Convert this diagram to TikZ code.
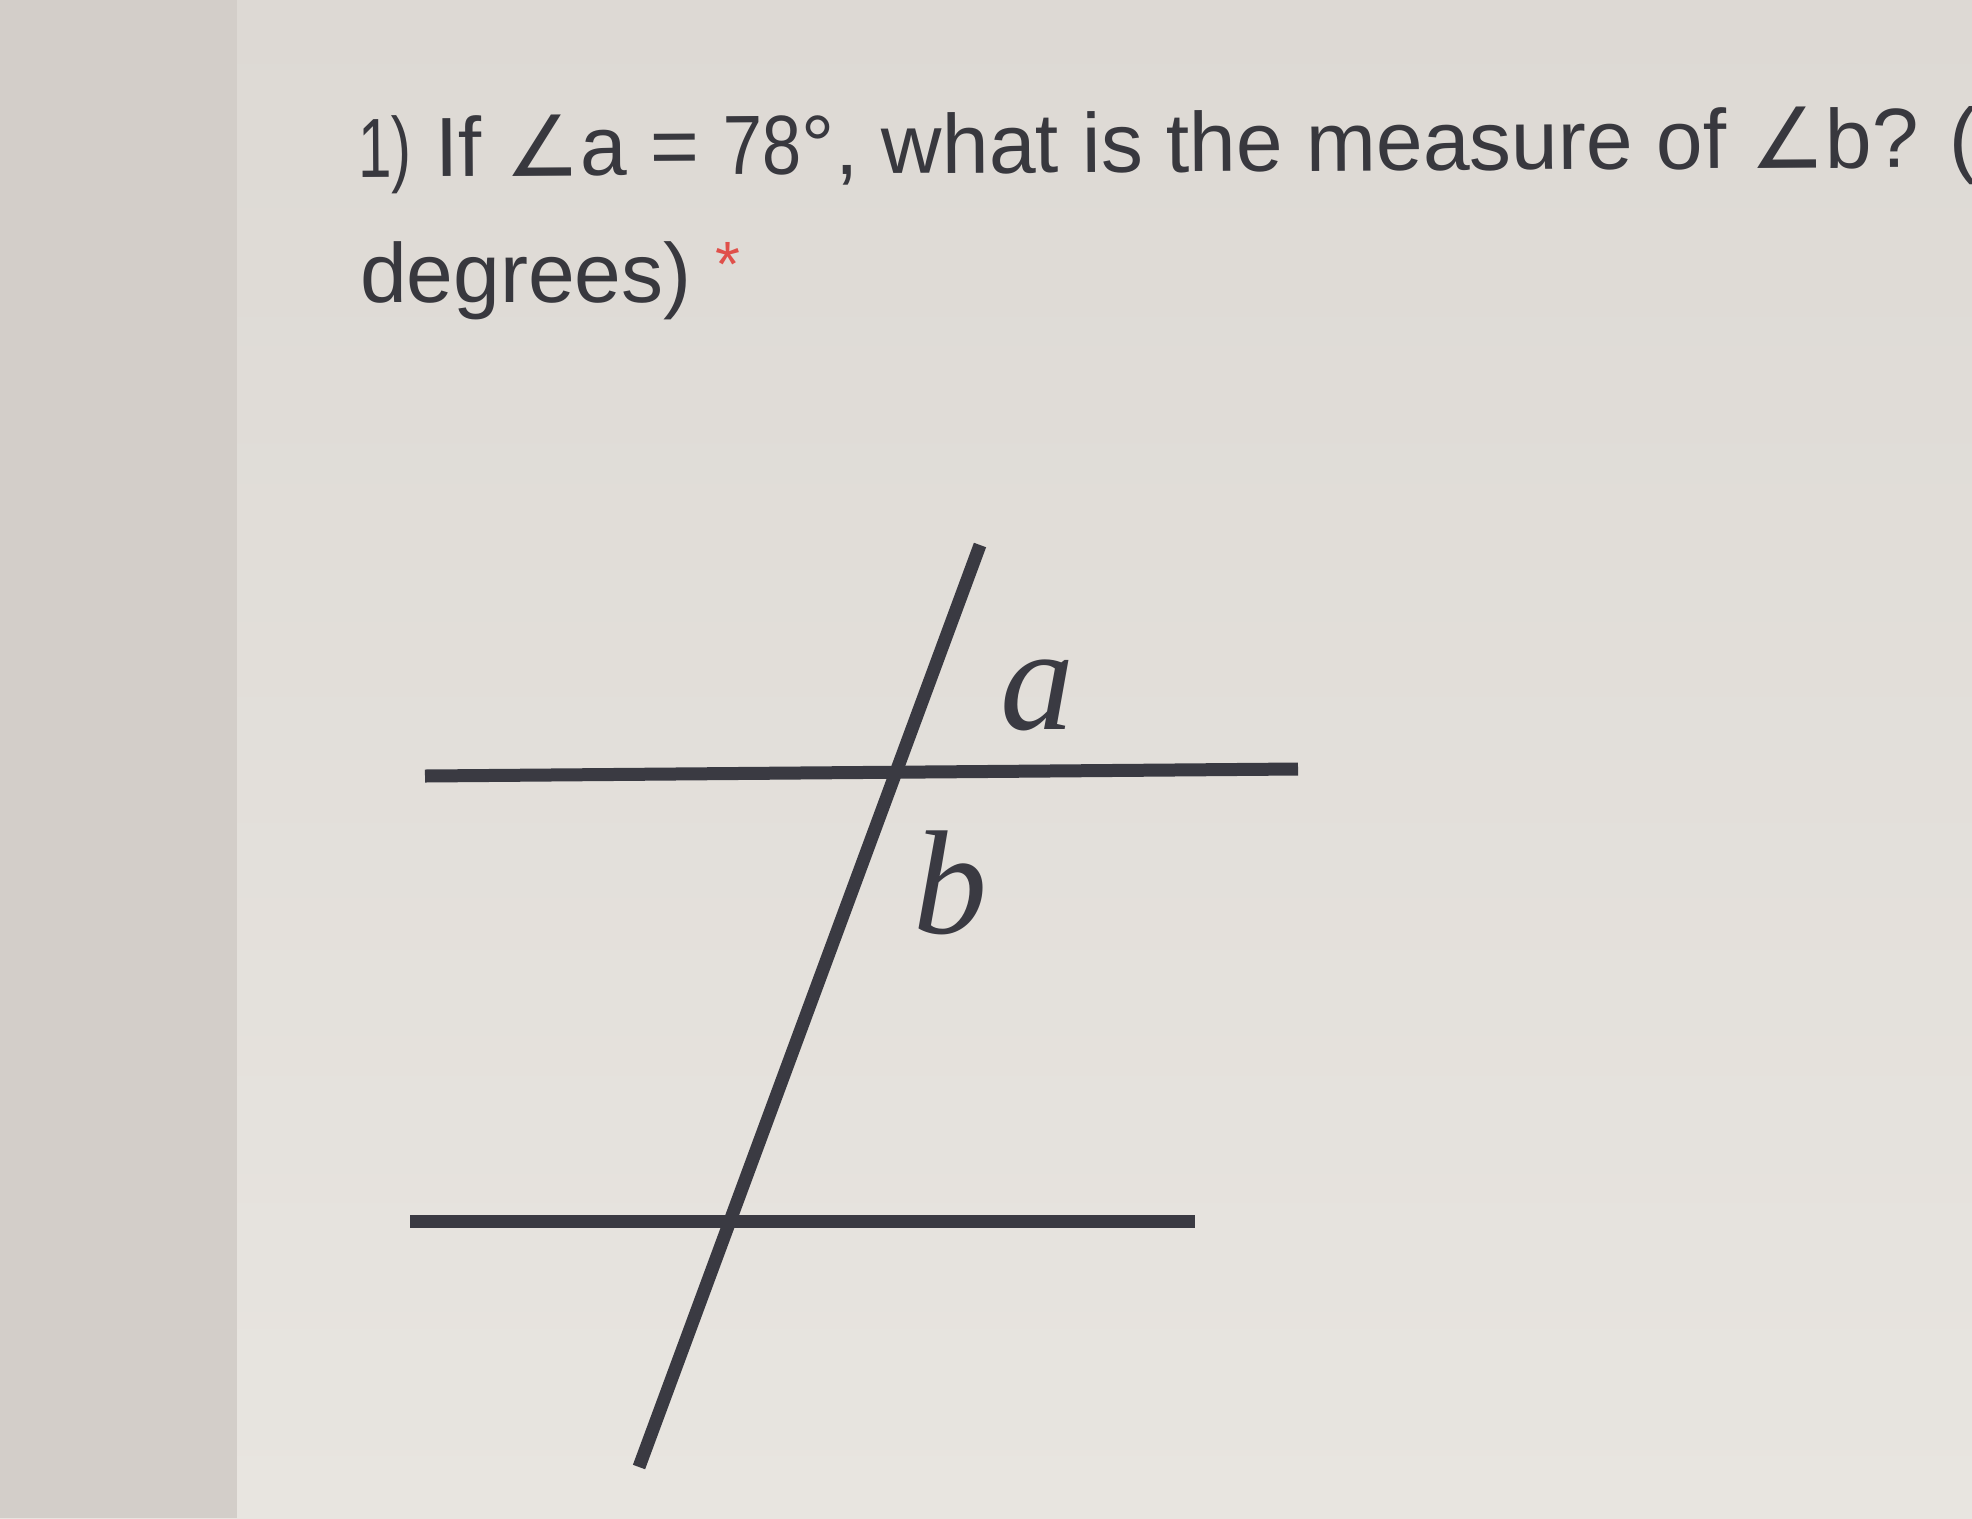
\documentclass[tikz,border=0pt]{standalone}
\usepackage{fontspec}
\setmainfont{Liberation Sans}
\newfontfamily\dejavu{DejaVu Sans}
\newfontfamily\tnr{Liberation Serif}
\newfontfamily\narrowa[FakeStretch=0.72]{Liberation Sans}
\newfontfamily\narrowb[FakeStretch=0.84]{Liberation Sans}
\definecolor{bgtop}{HTML}{DDD9D4}
\definecolor{bgbot}{HTML}{E8E5E0}
\definecolor{bgstrip}{HTML}{D3CEC9}
\definecolor{linecol}{HTML}{3A3A42}
\definecolor{txtcol}{HTML}{38383E}
\definecolor{starred}{HTML}{E0504A}
\begin{document}
\begin{tikzpicture}[x=1pt,y=-1pt,
  geo/.style={line width=13pt, draw=linecol},
  qtext/.style={anchor=base west, inner sep=0pt, text=txtcol, font=\fontsize{84}{100}\selectfont},
  lbl/.style={inner sep=0pt, text=linecol, font=\tnr\itshape\fontsize{148}{160}\selectfont},
  star/.style={inner sep=0pt, text=starred, font=\fontsize{64}{70}\selectfont}]
\useasboundingbox (0,0) rectangle (1972,1518);
\clip (0,0) rectangle (1972,1518);
\shade[top color=bgtop, bottom color=bgbot] (0,0) rectangle (1972,1518);
\fill[bgstrip] (0,0) rectangle (237,1518);
% question text
\node[qtext, rotate=0.35] (q1) at (358,177) {{\narrowa 1)} If {\dejavu ∠}a = {\narrowb 78}°, what is the measure of {\dejavu ∠}b? (};
\node[qtext] (q2) at (360,302) {degrees)};
\node[star] (st) at (728,264) {*};
% geometry
\coordinate (t1) at (425,776);
\coordinate (t2) at (1298,769);
\coordinate (u1) at (410,1221);
\coordinate (u2) at (1195,1221);
\coordinate (s1) at (980,545);
\coordinate (s2) at (639,1467);
\draw[geo] (t1) -- (t2);
\draw[geo] (u1) -- (u2);
\draw[geo] (s1) -- (s2);
\node[lbl] (la) at (1037,695) {a};
\node[lbl] (lb) at (950,883) {b};
\end{tikzpicture}
\end{document}
